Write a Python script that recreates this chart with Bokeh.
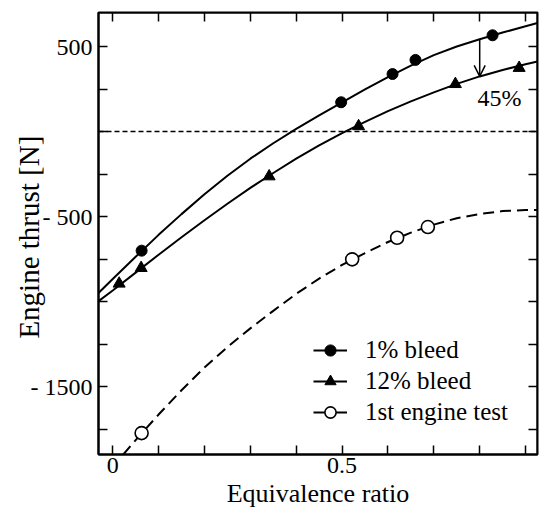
from bokeh.embed import file_html
from bokeh.models import (Arrow, FixedTicker, Label, Legend, LegendItem,
                          LinearAxis, OpenHead, Range1d, Span)
from bokeh.plotting import figure
from bokeh.resources import INLINE

# ---- measured points -------------------------------------------------------
bleed1_x = [0.063, 0.498, 0.610, 0.660, 0.828]
bleed1_y = [-701, 172, 338, 421, 566]

bleed12_x = [0.014, 0.062, 0.341, 0.536, 0.747, 0.886]
bleed12_y = [-895, -803, -264, 31, 279, 374]

test1_x = [0.063, 0.522, 0.620, 0.687]
test1_y = [-1774, -752, -625, -562]

# ---- fitted curves ----------------------------------------------------------
fit_x = [-0.031, 0.0, 0.05, 0.10, 0.15, 0.20, 0.25, 0.30, 0.35, 0.40, 0.45,
         0.50, 0.55, 0.60, 0.65, 0.70, 0.75, 0.80, 0.85, 0.90, 0.926]
fit1_y = [-950, -868, -737, -608, -486, -369, -260, -160, -69, 15, 95,
          172, 248, 320, 388, 449, 500, 543, 582, 619, 638]
fit12_y = [-998, -935, -830, -725, -622, -522, -425, -332, -244, -160, -82,
           -10, 57, 120, 177, 230, 280, 324, 362, 396, 412]

test_fit_x = [0.023, 0.05, 0.10, 0.15, 0.20, 0.25, 0.30, 0.35, 0.40, 0.45,
              0.50, 0.55, 0.60, 0.65, 0.70, 0.75, 0.80, 0.85, 0.90, 0.926]
test_fit_y = [-1900, -1815, -1665, -1522, -1388, -1268, -1158, -1055, -955,
              -865, -785, -715, -650, -595, -548, -510, -485, -468, -462, -462]

# thrust drop marker between the two bleed curves
drop_index = fit_x.index(0.80)
drop_text = "45%"

x_lo, x_hi = -0.031, 0.926
y_lo, y_hi = -1900, 700
x_ticks = [0.0, 0.1, 0.2, 0.3, 0.4, 0.5, 0.6, 0.7, 0.8, 0.9]
x_tick_labels = {0.0: "0", 0.5: "0.5"}
y_ticks = [-1750, -1500, -1250, -1000, -750, -500, -250, 0, 250, 500]
y_tick_labels = {500: "500", -500: "- 500", -1500: "- 1500"}

FONT = "Liberation Serif"

p = figure(width=542, height=519, output_backend="svg", toolbar_location=None,
           x_range=Range1d(x_lo, x_hi), y_range=Range1d(y_lo, y_hi),
           min_border_left=98, min_border_right=5, min_border_top=12,
           min_border_bottom=65, x_axis_type=None, y_axis_type=None)
p.background_fill_color = "white"
p.border_fill_color = "white"
p.outline_line_color = "black"
p.outline_line_width = 2
p.grid.visible = False


def make_axis(ticks, labels, show):
    ax = LinearAxis(ticker=FixedTicker(ticks=ticks))
    ax.major_label_overrides = {t: (labels.get(t, "") if show else "") for t in ticks}
    ax.major_tick_in = 9
    ax.major_tick_out = 0
    ax.minor_tick_in = 0
    ax.minor_tick_out = 0
    ax.major_tick_line_width = 1.5
    ax.axis_line_width = 2
    ax.major_label_text_font = FONT
    ax.major_label_text_font_size = "24px" if show else "0px"
    ax.major_label_text_color = "black"
    ax.axis_label_text_font = FONT
    ax.axis_label_text_font_style = "normal"
    ax.axis_label_text_color = "black"
    return ax


xb = make_axis(x_ticks, x_tick_labels, True)
xb.major_label_standoff = 3
xb.axis_label = "Equivalence ratio"
xb.axis_label_text_font_size = "26px"
xb.axis_label_standoff = 3
yl = make_axis(y_ticks, y_tick_labels, True)
yl.major_label_standoff = 6
yl.axis_label = "Engine thrust  [N]"
yl.axis_label_text_font_size = "29px"
yl.axis_label_standoff = -17
# mirrored tick marks on the top and right edges, pinned to the frame edge
xt = make_axis(x_ticks, {}, False)
xt.fixed_location = y_hi
yr = make_axis(y_ticks, {}, False)
yr.fixed_location = x_hi
p.add_layout(xb, "below")
p.add_layout(yl, "left")
p.add_layout(xt, "above")
p.add_layout(yr, "right")

# zero-thrust reference
p.add_layout(Span(location=0, dimension="width", line_color="black",
                  line_width=1.6, line_dash="5 3"))

# fitted curves
l1 = p.line(fit_x, fit1_y, line_color="black", line_width=2)
l12 = p.line(fit_x, fit12_y, line_color="black", line_width=2)
p.line(test_fit_x, test_fit_y, line_color="black", line_width=2,
       line_dash="11 6")
# single-point line: draws nothing in the plot, gives the legend its stroke
legend_line = p.line(test1_x[:1], test1_y[:1], line_color="black", line_width=2)

# measured points
s1 = p.scatter(bleed1_x, bleed1_y, marker="circle", size=11,
               fill_color="black", line_color="black")
s12 = p.scatter(bleed12_x, bleed12_y, marker="triangle", size=12,
                fill_color="black", line_color="black")
st = p.scatter(test1_x, test1_y, marker="circle", size=13,
               fill_color="white", line_color="black", line_width=1.6)

# 45 % thrust drop arrow
p.add_layout(Arrow(end=OpenHead(size=11, line_width=1.5, line_color="black"),
                   x_start=fit_x[drop_index], y_start=fit1_y[drop_index],
                   x_end=fit_x[drop_index], y_end=fit12_y[drop_index],
                   line_color="black", line_width=1.5))
p.add_layout(Label(x=0.843, y=197, text=drop_text, text_font=FONT,
                   text_font_size="24px", text_align="center",
                   text_baseline="middle", text_color="black"))

legend = Legend(items=[
    LegendItem(label="1% bleed", renderers=[l1, s1]),
    LegendItem(label="12% bleed", renderers=[l12, s12]),
    LegendItem(label="1st engine test", renderers=[legend_line, st]),
], location=(215, 28))
legend.label_text_font = FONT
legend.label_text_font_size = "25px"
legend.label_text_color = "black"
legend.glyph_width = 34
legend.glyph_height = 28
legend.label_height = 28
legend.label_standoff = 18
legend.spacing = 3
legend.padding = 0
legend.margin = 0
legend.border_line_alpha = 0
legend.background_fill_alpha = 0
p.add_layout(legend, "center")

open("out.html", "w").write(file_html(p, INLINE))
